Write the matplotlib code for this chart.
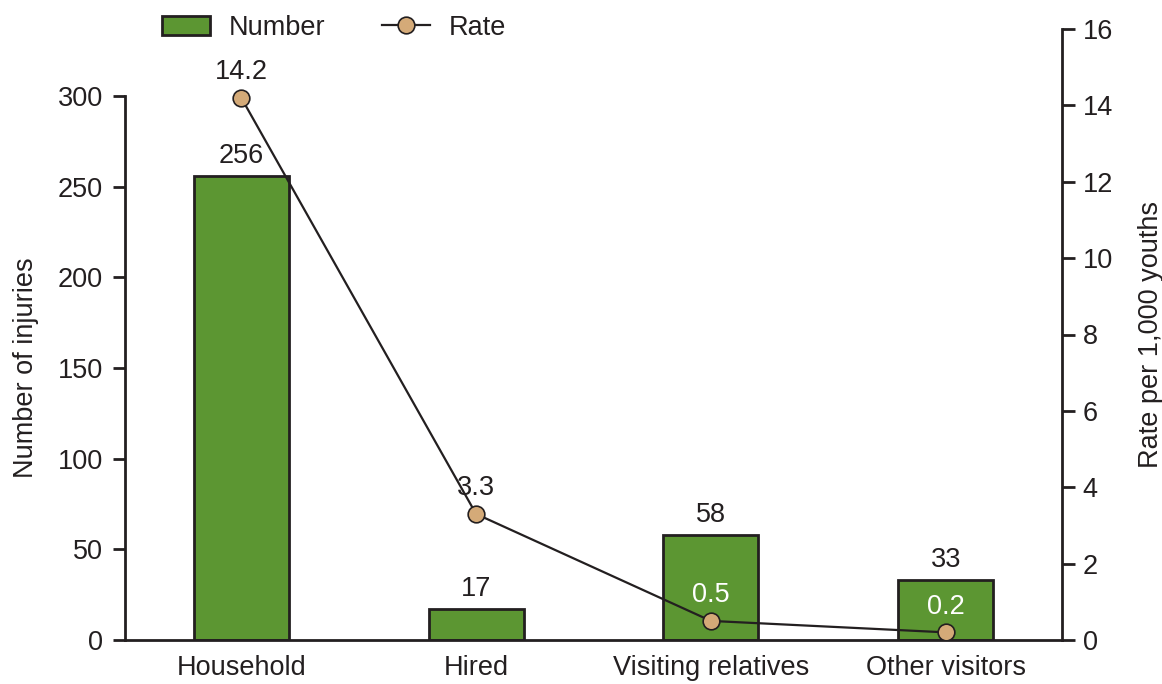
import matplotlib
matplotlib.use("Agg")
import matplotlib.pyplot as plt
from matplotlib.patches import Patch
from matplotlib.lines import Line2D

categories = ["Household", "Hired", "Visiting relatives", "Other visitors"]
numbers = [256, 17, 58, 33]
rates = [14.2, 3.3, 0.5, 0.2]
left_ticks = [0, 50, 100, 150, 200, 250, 300]
right_ticks = [0, 2, 4, 6, 8, 10, 12, 14, 16]

plt.rcParams['font.family'] = ['Liberation Sans', 'DejaVu Sans']
FS = 19.5
DARK = "#231f20"
GREEN = "#5c9632"
TAN = "#d4aa78"

fig = plt.figure(figsize=(11.62, 6.84), dpi=100)
ax = fig.add_axes([125/1162, 1 - 640/684, (1062 - 125)/1162, (640 - 29)/684])
ax2 = ax.twinx()

x = list(range(len(categories)))
ax.bar(x, numbers, width=0.405, color=GREEN, edgecolor=DARK, linewidth=2, zorder=2)
for xi, v in zip(x, numbers):
    ax.annotate(str(v), (xi, v), xytext=(0, 5), textcoords="offset points",
                ha="center", va="bottom", fontsize=FS, color=DARK)

ax.set_xlim(-0.495, 3.495)
ax.set_ylim(0, 337)
ax.set_yticks(left_ticks)
ax.spines['left'].set_bounds(0, 300)
ax.spines['top'].set_visible(False)
ax.spines['right'].set_visible(False)
for s in ['left', 'bottom']:
    ax.spines[s].set_linewidth(2)
    ax.spines[s].set_color(DARK)
ax.set_xticks(x)
ax.set_xticklabels(categories, fontsize=FS, color=DARK)
ax.tick_params(axis='x', length=0, pad=11)
ax.tick_params(axis='y', length=9, width=2, color=DARK, labelsize=FS, labelcolor=DARK, pad=7)
ax.set_ylabel("Number of injuries", fontsize=FS, color=DARK)
ax.yaxis.set_label_coords(-0.092, 300/337/2)

ax2.plot(x, rates, color=DARK, linewidth=1.6, marker='o', markersize=12,
         markerfacecolor=TAN, markeredgecolor=DARK, markeredgewidth=1.2, zorder=3)
label_colors = [DARK, DARK, "white", "white"]
for xi, v, c in zip(x, rates, label_colors):
    ax2.annotate(f"{v}", (xi, v), xytext=(0, 9), textcoords="offset points",
                 ha="center", va="bottom", fontsize=FS, color=c)
ax2.set_ylim(0, 16)
ax2.set_yticks(right_ticks)
ax2.spines['top'].set_visible(False)
ax2.spines['left'].set_visible(False)
ax2.spines['bottom'].set_visible(False)
ax2.spines['right'].set_linewidth(2)
ax2.spines['right'].set_color(DARK)
ax2.tick_params(axis='y', length=9, width=2, color=DARK, labelsize=FS, labelcolor=DARK, pad=6)
ax2.set_ylabel("Rate per 1,000 youths", fontsize=FS, color=DARK)
ax2.yaxis.set_label_coords(1.081, 0.5)

handles = [Patch(facecolor=GREEN, edgecolor=DARK, linewidth=2),
           Line2D([0], [0], color=DARK, linewidth=1.6, marker='o', markersize=12,
                  markerfacecolor=TAN, markeredgecolor=DARK, markeredgewidth=1.2)]
fig.legend(handles, ["Number", "Rate"], loc="center left", bbox_to_anchor=(138/1162, 1 - 28/684),
           ncol=2, frameon=False, fontsize=FS, handlelength=1.75, handleheight=0.75,
           columnspacing=2.1, handletextpad=0.7, labelcolor=DARK)

fig.savefig("out.png", dpi=100)
